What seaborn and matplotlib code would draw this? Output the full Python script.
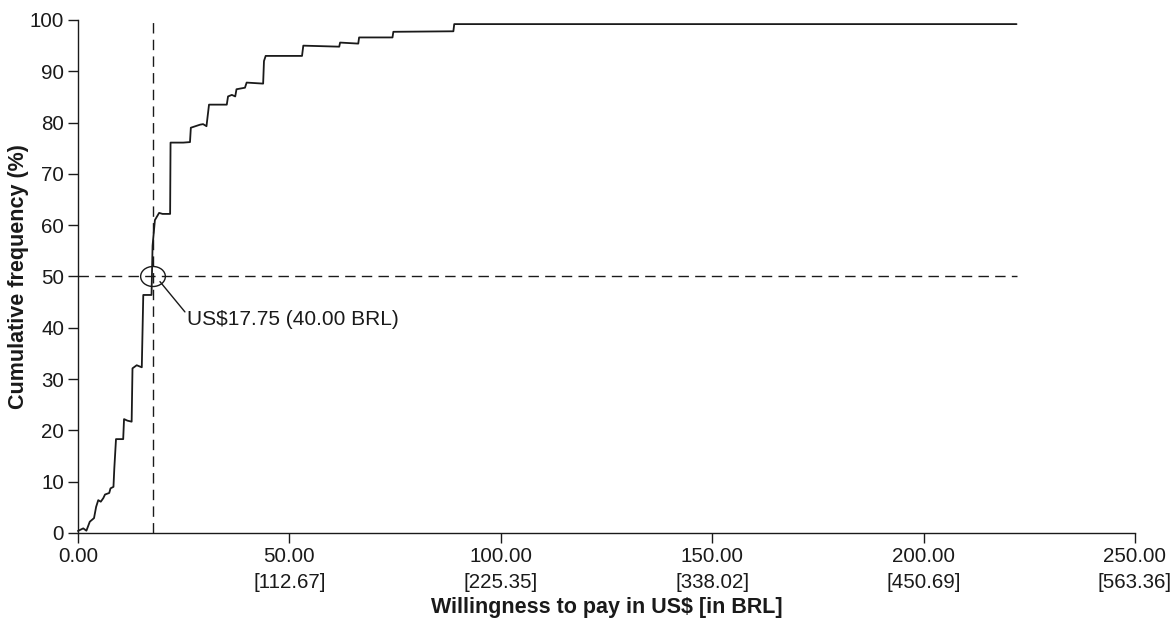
import matplotlib
matplotlib.use("Agg")
import matplotlib.pyplot as plt
from matplotlib.patches import Ellipse
import numpy as np
import pandas as pd
import seaborn as sns

# Cumulative distribution of willingness to pay (US$), traced as a polyline
wtp_usd = [0.0, 1.25, 2.0, 2.8, 3.8, 4.3, 4.8, 5.4, 6.0, 6.4, 7.4, 7.7, 8.4, 8.6,
           9.0, 10.7, 10.9, 11.7, 12.7, 12.9, 13.9, 15.1, 15.45, 17.4, 17.65,
           18.2, 19.2, 20.0, 21.8, 21.9, 24.9, 26.5, 26.7, 28.9, 29.6, 30.4,
           31.0, 35.2, 35.5, 36.4, 37.2, 37.5, 39.5, 39.9, 43.8, 44.0, 44.4,
           53.0, 53.3, 61.8, 62.0, 66.3, 66.5, 74.4, 74.6, 88.8, 89.0, 222.0]
cum_freq = [0.4, 0.9, 0.45, 2.2, 2.9, 5.1, 6.4, 6.1, 6.8, 7.5, 7.8, 8.7, 9.0, 12.6,
            18.3, 18.3, 22.2, 21.9, 21.7, 32.1, 32.7, 32.3, 46.4, 46.4, 56.0,
            61.0, 62.4, 62.2, 62.2, 76.1, 76.1, 76.2, 79.0, 79.6, 79.7, 79.3,
            83.5, 83.5, 85.1, 85.4, 85.1, 86.5, 86.8, 87.8, 87.6, 92.0, 93.0,
            93.0, 95.0, 94.8, 95.6, 95.4, 96.6, 96.6, 97.7, 97.8, 99.2, 99.2]

median_usd = 17.75
median_label = "US$17.75 (40.00 BRL)"
max_usd = 222.0

x_ticks = [0, 50, 100, 150, 200, 250]
x_tick_labels = ["0.00", "50.00\n[112.67]", "100.00\n[225.35]", "150.00\n[338.02]",
                 "200.00\n[450.69]", "250.00\n[563.36]"]
y_ticks = list(range(0, 101, 10))

ink = "#1a1a1a"
fs = 14.8

sns.set_theme(style="ticks")
plt.rcParams["font.family"] = ["Liberation Sans", "DejaVu Sans"]

fig = plt.figure(figsize=(11.74, 6.41), dpi=100)
ax = fig.add_axes([0.0664, 0.1685, 0.9003, 0.8003])

df = pd.DataFrame({"wtp": wtp_usd, "cum": cum_freq})
sns.lineplot(data=df, x="wtp", y="cum", estimator=None, sort=False,
             color=ink, linewidth=1.3, ax=ax, clip_on=False)

dash = (0, (7.5, 4.5))
ax.axvline(median_usd, ymin=0, ymax=1, color=ink, linewidth=1.0, linestyle=dash)
ax.hlines(50, 0, max_usd, color=ink, linewidth=1.0, linestyles=dash)

ax.add_patch(Ellipse((median_usd, 50), width=5.85, height=3.9, fill=False,
                     edgecolor=ink, linewidth=1.0))
ax.plot([19.4, 25.3], [49.0, 43.1], color=ink, linewidth=1.0)
ax.text(25.7, 40.5, median_label, fontsize=15, color=ink,
        ha="left", va="baseline")

ax.set_xlim(0, 250)
ax.set_ylim(0, 100)
ax.set_xticks(x_ticks)
ax.set_xticklabels(x_tick_labels, linespacing=1.5)
ax.set_yticks(y_ticks)
ax.tick_params(axis="both", direction="out", length=7.5, width=1.0,
               color=ink, labelsize=fs, labelcolor=ink, pad=2.5)
for side in ("top", "right"):
    ax.spines[side].set_visible(False)
for side in ("left", "bottom"):
    ax.spines[side].set_linewidth(1.0)
    ax.spines[side].set_color(ink)

ax.set_xlabel("Willingness to pay in US$ [in BRL]", fontsize=15.5,
              fontweight="bold", color=ink)
ax.set_ylabel("Cumulative frequency (%)", fontsize=15.5, fontweight="bold",
              color=ink)
ax.xaxis.label.set_va("center")
ax.xaxis.set_label_coords(0.5, -0.145)
ax.yaxis.label.set_va("center")
ax.yaxis.set_label_coords(-0.0565, 0.5)

fig.savefig("out.png", dpi=100)
